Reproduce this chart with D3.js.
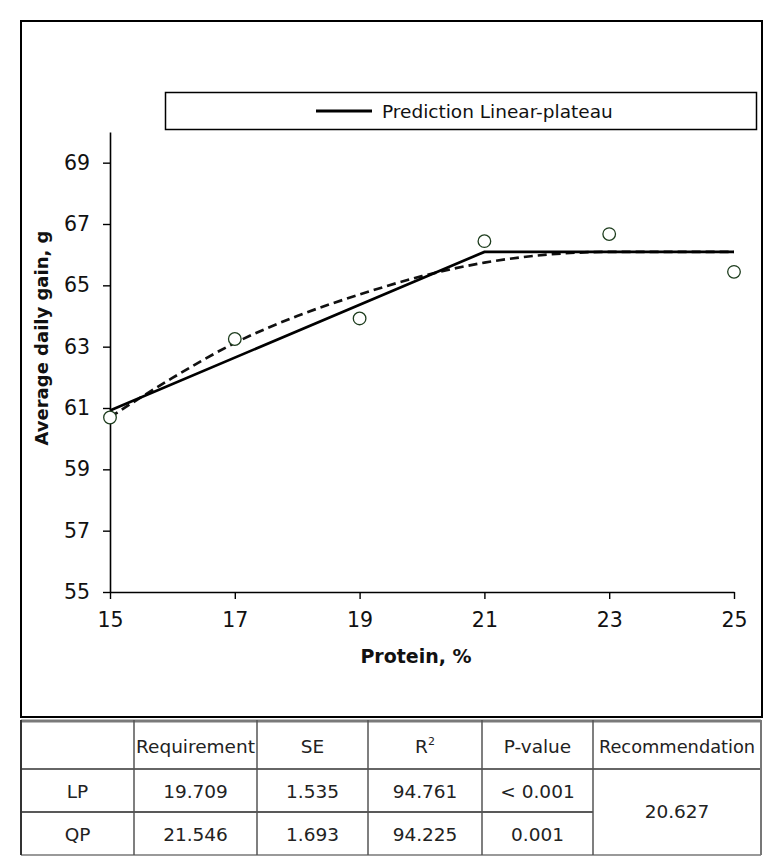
<!DOCTYPE html>
<html>
<head>
<meta charset="utf-8">
<script src="https://cdn.jsdelivr.net/npm/d3@7"></script>
<style>
  html, body { margin: 0; padding: 0; background: #fff; }
  svg { display: block; }
</style>
</head>
<body>
<svg id="chart" width="775" height="857"></svg>
<script>
// ---- Data ----
const proteinLevels = [15, 17, 19, 21, 23, 25];
const observedGain = [60.69, 63.25, 63.92, 66.44, 66.67, 65.44];

// Linear-plateau prediction (solid)
const lpX = [15, 21, 25];
const lpY = [60.92, 66.09, 66.09];

// Quadratic-plateau prediction (dashed)
const qpX = [15, 16, 17, 18, 19, 20, 21, 22, 23, 24, 25];
const qpY = [60.70, 61.98, 63.12, 64.00, 64.70, 65.30, 65.74, 66.00, 66.09, 66.09, 66.09];

const xTicks = [15, 17, 19, 21, 23, 25];
const yTicks = [55, 57, 59, 61, 63, 65, 67, 69];

const legendLabel = "Prediction Linear-plateau";
const xTitle = "Protein, %";
const yTitle = "Average daily gain, g";

const tableHeader = ["", "Requirement", "SE", "R2", "P-value", "Recommendation"];
const tableRowNames = ["LP", "QP"];
const tableRequirement = ["19.709", "21.546"];
const tableSE = ["1.535", "1.693"];
const tableR2 = ["94.761", "94.225"];
const tablePValue = ["< 0.001", "0.001"];
const tableRecommendation = "20.627";

// ---- Layout ----
const svg = d3.select("#chart");
const FONT = "'DejaVu Sans', sans-serif";

const x = d3.scaleLinear().domain([15, 25]).range([110, 734]);
const y = d3.scaleLinear().domain([55, 70]).range([592, 132]);

// outer chart border
svg.append("rect").attr("x", 21).attr("y", 21).attr("width", 741).attr("height", 696)
  .attr("fill", "none").attr("stroke", "#000").attr("stroke-width", 2);

// legend
const lg = svg.append("g");
lg.append("rect").attr("x", 165.5).attr("y", 92.5).attr("width", 591).attr("height", 37)
  .attr("fill", "#fff").attr("stroke", "#000").attr("stroke-width", 1.5);
lg.append("line").attr("x1", 316).attr("x2", 372).attr("y1", 111).attr("y2", 111)
  .attr("stroke", "#000").attr("stroke-width", 3);
lg.append("text").attr("x", 382).attr("y", 117.5).attr("font-family", FONT)
  .attr("font-size", 18.5).attr("fill", "#111").text(legendLabel);

// axes
const yAxis = d3.axisLeft(y).tickValues(yTicks).tickSize(7).tickPadding(13).tickSizeOuter(0);
const gy = svg.append("g").attr("transform", "translate(110,0)").call(yAxis);
gy.select(".domain").attr("stroke", "#000").attr("stroke-width", 1.6);
gy.selectAll(".tick line").attr("stroke", "#000").attr("stroke-width", 1.4);
gy.selectAll(".tick text").attr("font-family", FONT).attr("font-size", 20.5).attr("fill", "#111");

const xAxis = d3.axisBottom(x).tickValues(xTicks).tickSize(7).tickPadding(13).tickSizeOuter(0);
const gx = svg.append("g").attr("transform", "translate(0,592)").call(xAxis);
gx.select(".domain").attr("stroke", "#000").attr("stroke-width", 1.6);
gx.selectAll(".tick line").attr("stroke", "#000").attr("stroke-width", 1.4);
gx.selectAll(".tick text").attr("font-family", FONT).attr("font-size", 20.5).attr("fill", "#111");

// axis titles
svg.append("text").attr("x", 416).attr("y", 663).attr("text-anchor", "middle")
  .attr("font-family", FONT).attr("font-weight", "bold").attr("font-size", 19)
  .attr("fill", "#111").text(xTitle);
svg.append("text").attr("transform", "translate(48,338) rotate(-90)").attr("text-anchor", "middle")
  .attr("font-family", FONT).attr("font-weight", "bold").attr("font-size", 18)
  .attr("fill", "#111").text(yTitle);

// lines
const lpData = lpX.map((v, i) => [v, lpY[i]]);
const qpData = qpX.map((v, i) => [v, qpY[i]]);
const lineGen = d3.line().x(d => x(d[0])).y(d => y(d[1]));

svg.append("path").datum(qpData)
  .attr("d", lineGen.curve(d3.curveMonotoneX))
  .attr("fill", "none").attr("stroke", "#111").attr("stroke-width", 2.7)
  .attr("stroke-dasharray", "9,5");
svg.append("path").datum(lpData)
  .attr("d", d3.line().x(d => x(d[0])).y(d => y(d[1])))
  .attr("fill", "none").attr("stroke", "#000").attr("stroke-width", 2.7);

// observed points
svg.append("g").selectAll("circle").data(proteinLevels.map((v, i) => [v, observedGain[i]]))
  .join("circle")
  .attr("cx", d => x(d[0])).attr("cy", d => y(d[1])).attr("r", 6.3)
  .attr("fill", "#fff").attr("stroke", "#1e3d1e").attr("stroke-width", 1.3);

// ---- Table ----
const colX = [21, 134, 257, 368, 482, 593, 761];
const rowY = [720, 769, 812, 855];
const tg = svg.append("g");
const TFS = 18.5;
const tcol = "#222";

// horizontal lines
tg.append("line").attr("x1", colX[0]).attr("x2", colX[6]).attr("y1", 721).attr("y2", 721)
  .attr("stroke", "#7a7a7a").attr("stroke-width", 3);
tg.append("line").attr("x1", colX[0]).attr("x2", colX[6]).attr("y1", rowY[1]).attr("y2", rowY[1])
  .attr("stroke", "#333").attr("stroke-width", 1.5);
tg.append("line").attr("x1", colX[0]).attr("x2", colX[5]).attr("y1", rowY[2]).attr("y2", rowY[2])
  .attr("stroke", "#222").attr("stroke-width", 1.6);
tg.append("line").attr("x1", colX[0]).attr("x2", colX[6]).attr("y1", rowY[3]).attr("y2", rowY[3])
  .attr("stroke", "#777").attr("stroke-width", 1.6);
// vertical lines
colX.forEach((cx, i) => {
  tg.append("line").attr("x1", cx).attr("x2", cx).attr("y1", 720).attr("y2", 855)
    .attr("stroke", (i === 0) ? "#333" : (i === 6 ? "#777" : "#555"))
    .attr("stroke-width", (i === 0 || i === 6) ? 2 : 1.5);
});

function cellText(col, yBase, txt, fs) {
  return tg.append("text").attr("x", (colX[col] + colX[col + 1]) / 2).attr("y", yBase)
    .attr("text-anchor", "middle").attr("font-family", FONT).attr("font-size", fs || TFS)
    .attr("fill", tcol).text(txt);
}
// header
tableHeader.forEach((h, i) => {
  if (h === "R2") {
    const t = cellText(i, 753, "R");
    t.append("tspan").attr("dy", -8).attr("font-size", 11).text("2");
  } else if (h === "Recommendation") {
    cellText(i, 753, h, 17.8);
  } else if (h) {
    cellText(i, 753, h);
  }
});
// rows
const rowBase = [798, 841];
tableRowNames.forEach((r, i) => {
  cellText(0, rowBase[i], r);
  cellText(1, rowBase[i], tableRequirement[i]);
  cellText(2, rowBase[i], tableSE[i]);
  cellText(3, rowBase[i], tableR2[i]);
  cellText(4, rowBase[i], tablePValue[i]);
});
cellText(5, 818, tableRecommendation);
</script>
</body>
</html>
